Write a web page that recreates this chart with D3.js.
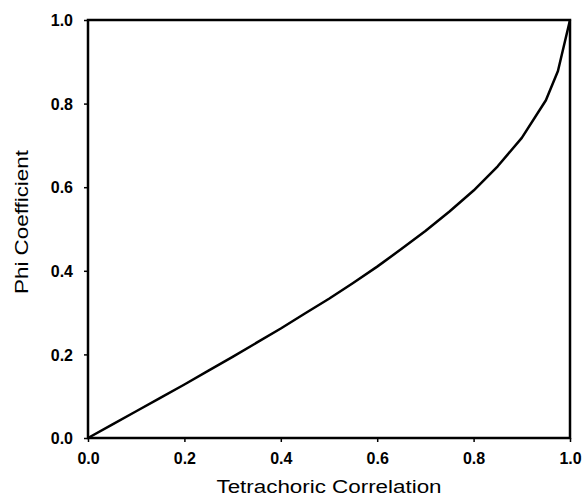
<!DOCTYPE html>
<html>
<head>
<meta charset="utf-8">
<script src="https://cdn.jsdelivr.net/npm/d3@7"></script>
<style>
  html, body { margin: 0; padding: 0; background: #fff; }
  svg { display: block; }
</style>
</head>
<body>
<svg id="chart" width="584" height="497"></svg>
<script>
// Data
const tetrachoric = [0, 0.05, 0.1, 0.15, 0.2, 0.25, 0.3, 0.35, 0.4, 0.45, 0.5, 0.55, 0.6, 0.65, 0.7, 0.75, 0.8, 0.85, 0.9, 0.95, 0.975, 1.0];
const phi =         [0, 0.032, 0.064, 0.096, 0.128, 0.161, 0.194, 0.228, 0.262, 0.298, 0.333, 0.371, 0.41, 0.452, 0.495, 0.542, 0.592, 0.65, 0.718, 0.808, 0.878, 1.0];
const xTicks = [0, 0.2, 0.4, 0.6, 0.8, 1.0];
const yTicks = [0, 0.2, 0.4, 0.6, 0.8, 1.0];
const xTitle = "Tetrachoric Correlation";
const yTitle = "Phi Coefficient";

const svg = d3.select("#chart");
const mLeft = 88, mRight = 570, mTop = 20, mBottom = 438;

const x = d3.scaleLinear().domain([0, 1]).range([mLeft, mRight]);
const y = d3.scaleLinear().domain([0, 1]).range([mBottom, mTop]);

const fmt = d3.format(".1f");

// X axis
const gx = svg.append("g")
  .attr("transform", `translate(0,${mBottom})`)
  .call(d3.axisBottom(x).tickValues(xTicks).tickFormat(fmt).tickSize(4).tickPadding(11));
gx.select(".domain").remove();
gx.selectAll("line").attr("stroke", "#000").attr("stroke-width", 1.5);
gx.selectAll("text")
  .attr("font-family", "'Liberation Sans', Arial, sans-serif")
  .attr("font-weight", "bold").attr("font-size", 16).attr("fill", "#000");

// Y axis
const gy = svg.append("g")
  .attr("transform", `translate(${mLeft},0)`)
  .call(d3.axisLeft(y).tickValues(yTicks).tickFormat(fmt).tickSize(4).tickPadding(11));
gy.select(".domain").remove();
gy.selectAll("line").attr("stroke", "#000").attr("stroke-width", 1.5);
gy.selectAll("text")
  .attr("font-family", "'Liberation Sans', Arial, sans-serif")
  .attr("font-weight", "bold").attr("font-size", 16).attr("fill", "#000")
  .attr("dy", "0.36em");

// Frame
svg.append("rect")
  .attr("x", x(0)).attr("y", y(1))
  .attr("width", x(1) - x(0)).attr("height", y(0) - y(1))
  .attr("fill", "none").attr("stroke", "#000").attr("stroke-width", 2.5);

// Curve
const pts = tetrachoric.map((r, i) => [r, phi[i]]);
svg.append("path")
  .datum(pts)
  .attr("fill", "none")
  .attr("stroke", "#000")
  .attr("stroke-width", 2.5)
  .attr("stroke-linejoin", "round")
  .attr("d", d3.line().x(d => x(d[0])).y(d => y(d[1])));

// Axis titles
const cx = (mLeft + mRight) / 2;
svg.append("text")
  .attr("transform", `translate(${cx},493) scale(1.28,1)`)
  .attr("text-anchor", "middle")
  .attr("font-family", "'Liberation Sans', Arial, sans-serif")
  .attr("font-size", 17.5).attr("fill", "#000")
  .text(xTitle);

svg.append("text")
  .attr("transform", `translate(28,222) rotate(-90) scale(1.28,1)`)
  .attr("text-anchor", "middle")
  .attr("font-family", "'Liberation Sans', Arial, sans-serif")
  .attr("font-size", 17.5).attr("fill", "#000")
  .text(yTitle);
</script>
</body>
</html>
